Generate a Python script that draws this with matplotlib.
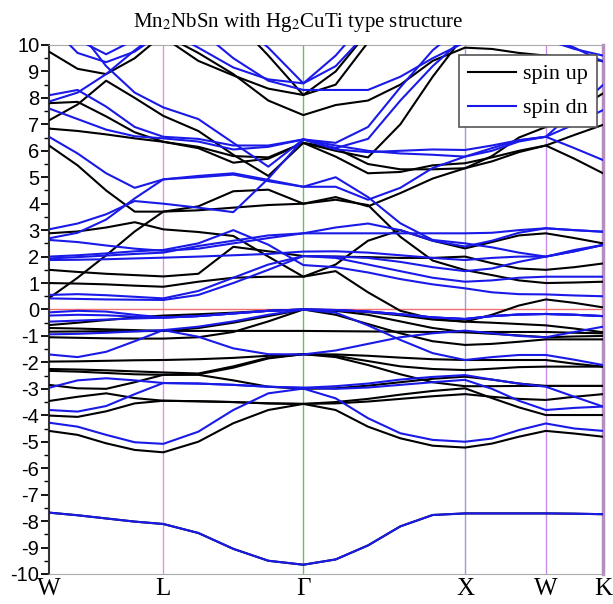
import matplotlib

matplotlib.use("Agg")
import matplotlib.pyplot as plt
from matplotlib.ticker import MultipleLocator

plt.rcParams["mathtext.fontset"] = "stix"
plt.rcParams["axes.unicode_minus"] = False

# high-symmetry points along the path (distance units)
k_labels = ["W", "L", "Γ", "X", "W", "K"]
k_nodes = [0.0, 0.7071, 1.5731, 2.5731, 3.0731, 3.4267]
node_colors = ["#000000", "#e58fe5", "#6fb86f", "#9a9ae0", "#c58ce8", "#b58ec0"]

# sampled k positions (W a1 a2 a3 L b1 b2 b3 G c1 c2 c3 c4 X d1 d2 W e1 K)
k_cols = [0.0, 0.1768, 0.3536, 0.5303, 0.7071, 0.9236, 1.1401, 1.3566, 1.5731,
          1.7731, 1.9731, 2.1731, 2.3731, 2.5731, 2.7398, 2.9064, 3.0731, 3.2499, 3.4267]

spin_up = [
    [-7.68, -7.78, -7.90, -8.02, -8.11, -8.45, -9.05, -9.50, -9.65, -9.45, -8.92, -8.20, -7.77, -7.71, -7.71, -7.71, -7.71, -7.72, -7.74],
    [-4.59, -4.74, -5.06, -5.31, -5.40, -5.00, -4.30, -3.80, -3.57, -3.80, -4.43, -4.87, -5.15, -5.22, -5.07, -4.81, -4.59, -4.69, -4.81],
    [-4.01, -4.06, -3.85, -3.55, -3.45, -3.47, -3.50, -3.55, -3.57, -3.50, -3.38, -3.22, -3.08, -2.98, -3.35, -3.70, -3.99, -3.99, -3.99],
    [-3.46, -3.30, -3.17, -3.35, -3.45, -3.47, -3.50, -3.55, -3.57, -3.55, -3.48, -3.38, -3.28, -3.20, -3.30, -3.38, -3.42, -3.30, -3.20],
    [-2.85, -2.98, -3.00, -2.75, -2.47, -2.47, -2.68, -2.92, -3.00, -2.98, -2.88, -2.75, -2.62, -2.54, -2.65, -2.80, -2.89, -2.89, -2.89],
    [-2.32, -2.35, -2.40, -2.45, -2.47, -2.45, -2.20, -1.85, -1.69, -1.80, -2.10, -2.45, -2.75, -2.90, -2.90, -2.89, -2.89, -2.89, -2.89],
    [-2.25, -2.27, -2.30, -2.34, -2.38, -2.42, -2.15, -1.82, -1.69, -1.75, -1.95, -2.15, -2.25, -2.29, -2.24, -2.18, -2.16, -2.16, -2.16],
    [-1.97, -1.96, -1.94, -1.92, -1.91, -1.88, -1.83, -1.75, -1.69, -1.70, -1.75, -1.82, -1.88, -1.91, -1.91, -1.91, -1.91, -2.05, -2.16],
    [-1.05, -1.07, -1.09, -1.10, -1.10, -1.05, -0.85, -0.45, 0.00, -0.20, -0.55, -0.90, -1.20, -1.34, -1.30, -1.22, -1.13, -1.13, -1.13],
    [-0.84, -0.83, -0.82, -0.82, -0.81, -0.81, -0.81, -0.81, -0.81, -0.82, -0.83, -0.84, -0.85, -0.86, -0.92, -0.98, -1.05, -1.02, -1.00],
    [-0.70, -0.72, -0.75, -0.78, -0.81, -0.70, -0.50, -0.25, 0.00, -0.05, -0.20, -0.45, -0.70, -0.86, -0.85, -0.85, -0.85, -0.88, -0.90],
    [-0.59, -0.50, -0.40, -0.30, -0.23, -0.18, -0.12, -0.05, 0.00, -0.03, -0.10, -0.22, -0.38, -0.46, -0.50, -0.55, -0.60, -0.72, -0.86],
    [0.43, 1.20, 2.05, 2.95, 3.70, 3.75, 3.85, 3.95, 4.00, 4.25, 3.90, 4.40, 4.95, 5.34, 5.80, 6.50, 6.90, 7.50, 8.17],
    [1.00, 0.98, 0.95, 0.90, 0.86, 1.05, 1.20, 1.24, 1.24, 1.45, 0.65, -0.05, -0.35, -0.46, -0.20, 0.15, 0.38, 0.25, 0.08],
    [1.50, 1.42, 1.35, 1.30, 1.25, 1.35, 2.37, 2.20, 2.02, 2.00, 1.98, 1.95, 1.95, 2.00, 1.75, 1.55, 1.50, 1.60, 1.74],
    [2.88, 2.95, 3.10, 3.30, 3.03, 2.93, 2.78, 2.00, 1.24, 1.70, 2.60, 3.00, 2.60, 2.31, 2.55, 2.80, 2.88, 2.70, 2.50],
    [6.20, 5.45, 4.50, 3.70, 3.70, 3.90, 4.47, 4.53, 4.00, 4.15, 3.95, 2.75, 1.85, 1.49, 1.30, 1.10, 1.00, 1.02, 1.05],
    [6.84, 6.75, 6.62, 6.47, 6.34, 6.10, 5.55, 5.70, 6.30, 5.78, 5.15, 5.20, 5.45, 5.53, 5.75, 6.00, 6.20, 5.70, 5.15],
    [7.15, 7.75, 8.65, 8.00, 7.32, 6.75, 5.85, 5.05, 6.30, 6.00, 5.75, 7.00, 8.80, 10.4, 10.6, 10.8, 11.0, 11.0, 11.0],
    [7.80, 7.85, 7.30, 6.70, 6.34, 6.15, 5.80, 5.75, 6.30, 6.10, 5.50, 5.30, 5.30, 5.34, 5.60, 5.95, 6.20, 6.60, 6.98],
    [9.75, 9.10, 8.90, 9.50, 10.4, 9.70, 8.90, 7.90, 7.35, 7.73, 7.90, 8.50, 9.40, 9.90, 9.85, 9.70, 9.60, 9.50, 9.40],
    [11.0, 10.8, 10.6, 10.8, 10.3, 9.40, 8.85, 8.35, 8.11, 8.50, 10.1, 11.0, 11.0, 11.0, 11.0, 11.0, 11.0, 11.0, 11.0],
    [11.5, 11.3, 11.2, 11.3, 11.5, 11.3, 11.0, 9.60, 8.11, 9.00, 10.5, 11.5, 11.5, 11.5, 11.5, 11.5, 11.5, 11.5, 11.5],
]

spin_dn = [
    [-7.68, -7.78, -7.90, -8.02, -8.11, -8.45, -9.05, -9.50, -9.65, -9.45, -8.92, -8.20, -7.77, -7.71, -7.71, -7.71, -7.71, -7.72, -7.74],
    [-4.28, -4.43, -4.74, -5.02, -5.08, -4.62, -3.80, -3.17, -2.99, -3.36, -4.11, -4.68, -4.93, -5.00, -4.88, -4.56, -4.31, -4.50, -4.59],
    [-2.96, -2.68, -2.60, -2.68, -2.78, -2.80, -2.85, -2.92, -2.96, -2.90, -2.80, -2.65, -2.55, -2.48, -2.65, -2.80, -2.92, -3.30, -3.67],
    [-3.80, -3.86, -3.65, -3.20, -2.78, -2.80, -2.85, -2.92, -2.96, -3.00, -2.95, -2.85, -2.75, -2.66, -3.00, -3.45, -3.80, -3.72, -3.67],
    [-1.70, -1.80, -1.60, -1.20, -0.78, -1.03, -1.47, -1.69, -1.70, -1.55, -1.30, -1.05, -0.90, -0.80, -0.90, -1.00, -1.05, -0.85, -0.65],
    [-0.94, -0.92, -0.88, -0.83, -0.78, -0.65, -0.45, -0.20, 0.00, -0.12, -0.60, -1.15, -1.65, -1.91, -1.80, -1.72, -1.72, -1.90, -2.10],
    [-0.46, -0.42, -0.38, -0.34, -0.31, -0.25, -0.15, -0.05, 0.00, -0.02, -0.08, -0.18, -0.30, -0.36, -0.25, -0.19, -0.17, -0.20, -0.25],
    [-0.23, -0.20, -0.22, -0.27, -0.31, -0.25, -0.15, -0.05, 0.00, -0.02, -0.08, -0.18, -0.30, -0.36, -0.25, -0.19, -0.17, -0.20, -0.25],
    [-0.11, -0.05, -0.08, -0.20, -0.30, -0.25, -0.15, -0.05, 0.00, -0.02, -0.08, -0.18, -0.30, -0.36, -0.25, -0.19, -0.17, -0.20, -0.25],
    [0.42, 0.40, 0.38, 0.37, 0.36, 0.55, 1.00, 1.50, 2.02, 1.95, 1.70, 1.45, 1.20, 1.05, 1.10, 1.20, 1.24, 1.24, 1.24],
    [0.55, 0.58, 0.54, 0.48, 0.42, 0.70, 1.20, 1.70, 2.02, 2.00, 1.95, 1.80, 1.60, 1.45, 1.55, 1.80, 2.00, 2.20, 2.44],
    [1.87, 1.88, 1.90, 1.93, 1.96, 2.00, 2.05, 2.10, 2.19, 2.20, 2.15, 2.05, 1.95, 1.87, 1.95, 2.00, 2.00, 2.25, 2.44],
    [1.93, 1.98, 2.04, 2.10, 2.15, 2.40, 2.60, 2.80, 2.88, 3.10, 3.25, 3.00, 2.60, 2.38, 2.60, 2.90, 3.07, 3.00, 2.94],
    [2.00, 2.05, 2.12, 2.20, 2.25, 2.50, 3.00, 2.45, 1.68, 1.60, 1.40, 1.15, 0.95, 0.80, 0.65, 0.58, 0.57, 0.53, 0.50],
    [2.63, 2.55, 2.42, 2.30, 2.22, 2.30, 2.50, 2.70, 2.88, 2.88, 2.88, 2.88, 2.88, 2.88, 2.90, 3.00, 3.07, 3.00, 2.94],
    [2.69, 2.90, 3.40, 4.20, 4.92, 5.05, 5.15, 4.90, 4.64, 4.64, 4.15, 4.60, 5.35, 5.78, 6.10, 6.40, 6.53, 6.10, 5.65],
    [3.03, 3.25, 3.60, 4.10, 4.00, 3.85, 3.68, 4.95, 6.43, 6.05, 5.95, 6.00, 6.05, 6.03, 6.20, 6.40, 6.53, 7.50, 8.49],
    [6.53, 5.90, 5.15, 4.60, 4.92, 5.00, 5.10, 4.85, 4.64, 5.00, 4.25, 3.26, 2.63, 2.50, 2.35, 2.15, 2.00, 2.20, 2.44],
    [7.60, 7.20, 6.80, 6.55, 6.47, 6.35, 6.05, 6.15, 6.43, 6.10, 6.45, 7.90, 9.20, 10.3, 10.3, 10.3, 10.2, 9.85, 9.60],
    [8.10, 8.30, 7.67, 6.90, 6.53, 6.45, 6.20, 6.20, 6.43, 6.20, 6.00, 5.90, 5.85, 5.78, 6.00, 6.35, 6.53, 7.00, 7.54],
    [11.0, 10.6, 9.20, 8.20, 7.64, 7.20, 6.30, 5.40, 6.43, 6.30, 6.90, 8.40, 9.80, 10.8, 10.6, 10.4, 10.3, 9.90, 9.37],
    [7.86, 8.20, 8.90, 9.80, 10.6, 9.90, 9.15, 8.70, 8.55, 9.20, 10.5, 11.0, 11.0, 11.0, 11.0, 11.0, 11.0, 11.0, 11.0],
    [10.8, 9.70, 9.35, 9.75, 10.5, 10.6, 9.50, 8.65, 8.30, 8.30, 8.30, 8.80, 9.50, 10.1, 10.2, 10.3, 10.4, 10.5, 10.5],
    [11.0, 10.2, 9.65, 10.2, 11.0, 11.0, 11.0, 9.90, 8.55, 9.60, 11.0, 11.0, 11.0, 11.0, 11.0, 11.0, 11.0, 11.0, 11.0],
]

fig = plt.figure(figsize=(6.13, 6.04), dpi=100)
ax = fig.add_axes([0.0799, 0.0497, 0.9038, 0.8758])

for i, band in enumerate(spin_up):
    ax.plot(k_cols, band, color="black", lw=1.5, label="spin up" if i == 0 else None, zorder=3)
for i, band in enumerate(spin_dn):
    ax.plot(k_cols, band, color="#1a1ae8", lw=1.5, label="spin dn" if i == 0 else None, zorder=4)

for xk, c in zip(k_nodes[1:], node_colors[1:]):
    ax.axvline(xk, color=c, lw=1.0, zorder=1)
ax.axhline(0.0, color="#f07070", lw=1.0, zorder=2)

ax.set_xlim(k_nodes[0], k_nodes[-1])
ax.set_ylim(-10, 10)
ax.set_xticks(k_nodes)
ax.set_xticklabels(k_labels, fontfamily="Liberation Serif", fontsize=18)
ax.tick_params(axis="x", length=0, pad=3)
ax.yaxis.set_major_locator(MultipleLocator(1))
ax.yaxis.set_minor_locator(MultipleLocator(0.5))
ax.tick_params(axis="y", which="major", direction="out", length=6, width=1.3, labelsize=14.5, pad=1)
ax.tick_params(axis="y", which="minor", direction="out", length=3.5, width=1.0)
for lab in ax.get_yticklabels():
    lab.set_fontfamily("Liberation Sans")

ax.spines["left"].set_color("#333333")
ax.spines["left"].set_linewidth(1.5)
ax.spines["top"].set_color("#aaaaaa")
ax.spines["bottom"].set_color("#aaaaaa")
ax.spines["right"].set_color(node_colors[-1])
ax.spines["right"].set_linewidth(2.5)

fig.text(298 / 613, 1 - 22 / 604, "Mn$_2$NbSn with Hg$_2$CuTi type structure",
         fontfamily="Liberation Serif", fontsize=15, ha="center", va="center")

leg = ax.legend(loc="upper right", bbox_to_anchor=(0.989, 0.981),
                prop={"family": "Liberation Serif", "size": 16},
                fancybox=False, framealpha=1, edgecolor="#555555", handlelength=2.2,
                borderpad=0.4, labelspacing=0.6, handletextpad=0.3, borderaxespad=0)
leg.get_frame().set_linewidth(1.2)
leg.set_zorder(10)

fig.savefig("out.png")
